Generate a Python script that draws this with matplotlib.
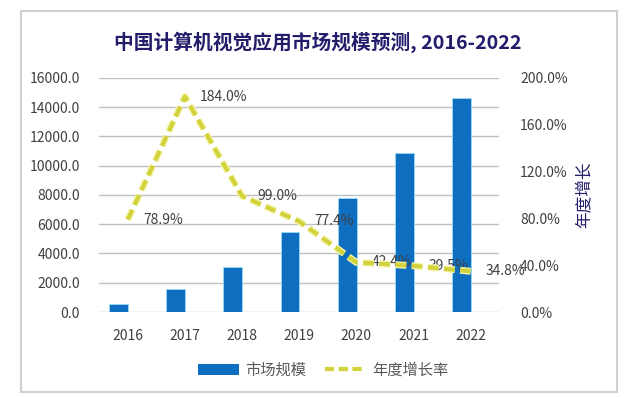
import numpy as np
import matplotlib
matplotlib.use("Agg")
import matplotlib.pyplot as plt
import matplotlib.patheffects as pe
from matplotlib.patches import Rectangle
from matplotlib.lines import Line2D
from matplotlib.patches import Patch

plt.rcParams['font.family'] = ['Noto Sans CJK SC', 'DejaVu Sans']

years = ["2016", "2017", "2018", "2019", "2020", "2021", "2022"]
market_size = [544, 1544, 3073, 5452, 7764, 10831, 14600]
growth = [78.9, 184.0, 99.0, 77.4, 42.4, 39.5, 34.8]
growth_labels = ["78.9%", "184.0%", "99.0%", "77.4%", "42.4%", "39.5%", "34.8%"]

bar_color = "#0E6EC0"
line_color = "#D2D23C"
glow_color = "#F4F4A8"
text_color = "#404040"
title_color = "#231C6B"

fig = plt.figure(figsize=(6.4, 3.97), dpi=100)
ax = fig.add_axes([0.155, 0.214, 0.625, 0.59])

x = np.arange(len(years))
# bars sit a bit left of the category centre, as in the original
ax.bar(x - 0.16, market_size, width=0.33, color=bar_color,
       edgecolor="#9ADCF5", linewidth=0.6, zorder=3)
ax.set_xlim(-0.5, 6.5)
ax.set_ylim(0, 16000)
ax.set_yticks(np.arange(0, 16001, 2000))
ax.set_yticklabels([f"{v:.1f}" for v in np.arange(0, 16001, 2000)])
ax.set_xticks(x)
ax.set_xticklabels(years)
ax.yaxis.grid(True, color="#BFBFBF", linewidth=1.0, zorder=0)
ax.set_axisbelow(True)
for s in ax.spines.values():
    s.set_visible(False)
ax.tick_params(axis="both", length=0, labelsize=10, colors=text_color)
ax.tick_params(axis="y", pad=14)
ax.tick_params(axis="x", pad=12)

ax2 = ax.twinx()
ax2.set_ylim(0, 200)
ax2.set_yticks(np.arange(0, 201, 40))
ax2.set_yticklabels([f"{v:.1f}%" for v in np.arange(0, 201, 40)])
for s in ax2.spines.values():
    s.set_visible(False)
ax2.tick_params(axis="y", length=0, labelsize=10, colors=text_color, pad=15)
ax2.plot(x, growth, color=line_color, linewidth=3, dashes=(2.6, 1.3),
         path_effects=[pe.Stroke(linewidth=5, foreground=glow_color), pe.Normal()],
         zorder=4)
for xi, yi, lab in zip(x, growth, growth_labels):
    ax2.annotate(lab, (xi, yi), xytext=(11, 0), textcoords="offset points",
                 ha="left", va="center", fontsize=10, color=text_color)

ax2.set_ylabel("年度增长", color=title_color, fontsize=12, labelpad=6, rotation=90)

fig.text(0.497, 0.893, "中国计算机视觉应用市场规模预测, 2016-2022",
         ha="center", va="center", fontsize=14.2, fontweight="bold", color=title_color)

handles = [Patch(facecolor=bar_color, edgecolor="none"),
           Line2D([0], [0], color=line_color, linewidth=3, dashes=(2.2, 1.1))]
fig.legend(handles, ["市场规模", "年度增长率"], loc="center", bbox_to_anchor=(0.505, 0.068),
           ncol=2, frameon=False, fontsize=11, handlelength=2.7, handletextpad=0.4,
           columnspacing=1.2, labelcolor="#595959")

fig.patches.append(Rectangle((0.033, 0.012), 0.931, 0.96, transform=fig.transFigure,
                             fill=False, edgecolor="#D0D0D0", linewidth=1.5))

fig.savefig("out.png", dpi=100)
